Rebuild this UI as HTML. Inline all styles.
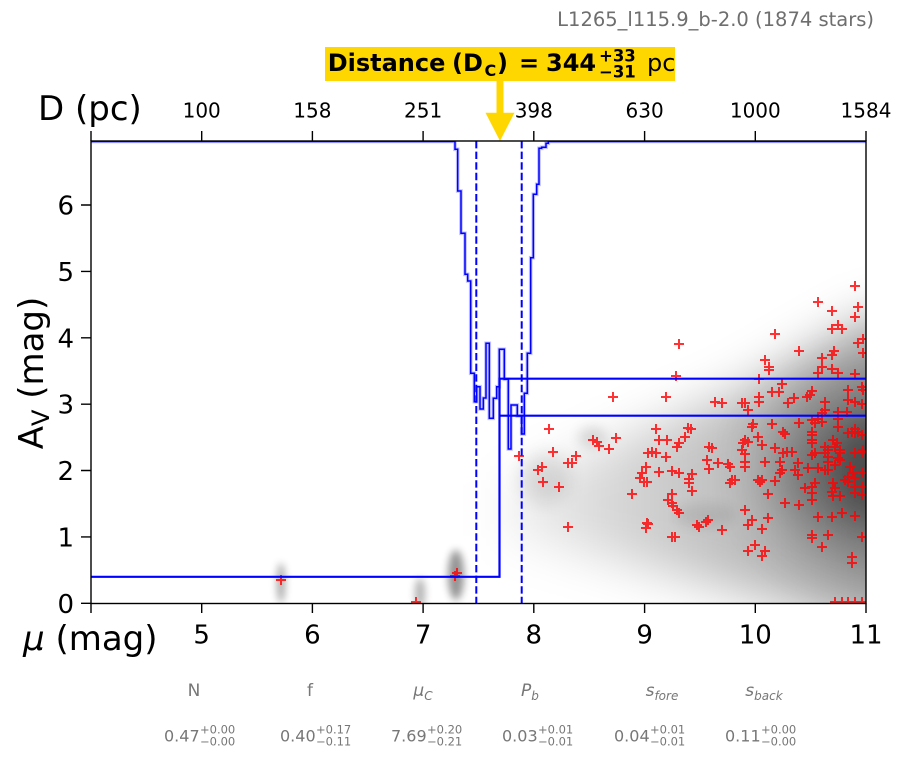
<!DOCTYPE html>
<html><head><meta charset="utf-8"><style>
html,body{margin:0;padding:0;background:#fff;}
svg{display:block;font-family:"DejaVu Sans","Liberation Sans",sans-serif;}
</style></head><body>
<svg width="902" height="759" viewBox="0 0 902 759" xmlns="http://www.w3.org/2000/svg">
<defs>
<clipPath id="pc"><rect x="91" y="141" width="775" height="462.5"/></clipPath>
<filter id="b25" x="-50%" y="-50%" width="200%" height="200%"><feGaussianBlur stdDeviation="24"/></filter>
<filter id="b30" x="-50%" y="-50%" width="200%" height="200%"><feGaussianBlur stdDeviation="32"/></filter>
<filter id="b15" x="-100%" y="-100%" width="300%" height="300%"><feGaussianBlur stdDeviation="15"/></filter>
<filter id="b10" x="-100%" y="-100%" width="300%" height="300%"><feGaussianBlur stdDeviation="9"/></filter>
<filter id="b6" x="-100%" y="-100%" width="300%" height="300%"><feGaussianBlur stdDeviation="6"/></filter>
<filter id="b4" x="-200%" y="-100%" width="500%" height="300%"><feGaussianBlur stdDeviation="4"/></filter>
<linearGradient id="gA" gradientUnits="userSpaceOnUse" x1="510" y1="0" x2="866" y2="0">
<stop offset="0" stop-color="#000" stop-opacity="0.06"/>
<stop offset="0.4" stop-color="#000" stop-opacity="0.19"/>
<stop offset="1" stop-color="#000" stop-opacity="0.36"/>
</linearGradient>
</defs>

<text x="874" y="26" text-anchor="end" font-size="19.5" fill="#6e6e6e">L1265_l115.9_b-2.0 (1874 stars)</text>

<rect x="325" y="47" width="350" height="34" fill="#FFD700"/>
<g fill="#000" font-weight="bold">
<text x="327.7" y="71" font-size="24">Distance</text>
<text x="452" y="71" font-size="24">(D</text>
<text x="484.5" y="76" font-size="16">C</text>
<text x="497" y="71" font-size="24">)</text>
<text x="519" y="71" font-size="24">=</text>
<text x="546" y="71" font-size="24">344</text>
<text x="599" y="61.5" font-size="16.5">+33</text>
<text x="599" y="77.3" font-size="16.5">−31</text>
</g>
<text x="647" y="71" font-size="24" fill="#000">pc</text>
<rect x="496.5" y="81" width="7" height="32" fill="#FFD700"/>
<polygon points="485.5,112.7 514.5,112.7 500,141" fill="#FFD700"/>

<g clip-path="url(#pc)">
<polygon points="505,485 620,440 740,390 866,320 990,295 990,650 866,625 740,592 620,562 505,535" fill="url(#gA)" filter="url(#b25)"/>
<ellipse cx="895" cy="470" rx="120" ry="85" fill="#000" opacity="0.42" filter="url(#b30)"/>
<ellipse cx="866" cy="470" rx="30" ry="45" fill="#000" opacity="0.2" filter="url(#b15)"/>
<ellipse cx="592" cy="437" rx="14" ry="10" fill="#000" opacity="0.12" filter="url(#b6)"/>
<ellipse cx="545" cy="478" rx="25" ry="25" fill="#000" opacity="0.1" filter="url(#b10)"/>
<ellipse cx="705" cy="515" rx="30" ry="12" fill="#000" opacity="0.08" filter="url(#b6)"/>
<ellipse cx="281" cy="583" rx="4" ry="20" fill="#000" opacity="0.35" filter="url(#b4)"/>
<ellipse cx="420" cy="593" rx="5" ry="15" fill="#000" opacity="0.3" filter="url(#b4)"/>
<ellipse cx="456" cy="575" rx="8" ry="25" fill="#000" opacity="0.42" filter="url(#b4)"/>
</g>

<g clip-path="url(#pc)">
<path fill="none" stroke="#ff0000" stroke-opacity="0.8" stroke-width="2" d="M276,580h10m-5,-5v10M411,602h10m-5,-5v10M450,576h10m-5,-5v10M452,573h10m-5,-5v10M850,286h10m-5,-5v10M813,302h10m-5,-5v10M827,311h10m-5,-5v10M853,307h10m-5,-5v10M850,317h10m-5,-5v10M827,329h10m-5,-5v10M833,325h10m-5,-5v10M837,329h10m-5,-5v10M770,334h10m-5,-5v10M853,343h10m-5,-5v10M858,339h10m-5,-5v10M674,344h10m-5,-5v10M794,351h10m-5,-5v10M829,351h10m-5,-5v10M827,355h10m-5,-5v10M858,353h10m-5,-5v10M817,358h10m-5,-5v10M760,360h10m-5,-5v10M764,367h10m-5,-5v10M764,370h10m-5,-5v10M817,367h10m-5,-5v10M827,369h10m-5,-5v10M833,373h10m-5,-5v10M813,373h10m-5,-5v10M850,374h10m-5,-5v10M671,376h10m-5,-5v10M754,379h10m-5,-5v10M777,384h10m-5,-5v10M843,390h10m-5,-5v10M857,387h10m-5,-5v10M858,390h10m-5,-5v10M767,392h10m-5,-5v10M774,392h10m-5,-5v10M807,391h10m-5,-5v10M802,397h10m-5,-5v10M805,395h10m-5,-5v10M608,397h10m-5,-5v10M661,397h10m-5,-5v10M754,397h10m-5,-5v10M754,402h10m-5,-5v10M789,398h10m-5,-5v10M783,403h10m-5,-5v10M710,402h10m-5,-5v10M717,403h10m-5,-5v10M737,403h10m-5,-5v10M740,403h10m-5,-5v10M820,402h10m-5,-5v10M820,410h10m-5,-5v10M843,400h10m-5,-5v10M850,402h10m-5,-5v10M857,404h10m-5,-5v10M743,410h10m-5,-5v10M842,412h10m-5,-5v10M817,413h10m-5,-5v10M833,412h10m-5,-5v10M833,419h10m-5,-5v10M807,420h10m-5,-5v10M813,419h10m-5,-5v10M817,422h10m-5,-5v10M810,423h10m-5,-5v10M794,423h10m-5,-5v10M833,427h10m-5,-5v10M748,424h10m-5,-5v10M747,427h10m-5,-5v10M767,424h10m-5,-5v10M544,429h10m-5,-5v10M651,429h10m-5,-5v10M683,428h10m-5,-5v10M686,429h10m-5,-5v10M778,432h10m-5,-5v10M780,434h10m-5,-5v10M807,432h10m-5,-5v10M807,435h10m-5,-5v10M847,432h10m-5,-5v10M850,433h10m-5,-5v10M853,432h10m-5,-5v10M857,435h10m-5,-5v10M850,429h10m-5,-5v10M843,433h10m-5,-5v10M753,437h10m-5,-5v10M680,437h10m-5,-5v10M807,440h10m-5,-5v10M807,443h10m-5,-5v10M588,440h10m-5,-5v10M592,442h10m-5,-5v10M611,438h10m-5,-5v10M654,440h10m-5,-5v10M662,440h10m-5,-5v10M740,440h10m-5,-5v10M743,442h10m-5,-5v10M738,443h10m-5,-5v10M828,440h10m-5,-5v10M832,443h10m-5,-5v10M594,446h10m-5,-5v10M674,443h10m-5,-5v10M672,447h10m-5,-5v10M757,445h10m-5,-5v10M820,447h10m-5,-5v10M823,450h10m-5,-5v10M830,447h10m-5,-5v10M835,450h10m-5,-5v10M704,447h10m-5,-5v10M707,448h10m-5,-5v10M604,449h10m-5,-5v10M548,452h10m-5,-5v10M571,456h10m-5,-5v10M643,453h10m-5,-5v10M647,452h10m-5,-5v10M651,453h10m-5,-5v10M661,457h10m-5,-5v10M737,450h10m-5,-5v10M740,454h10m-5,-5v10M770,448h10m-5,-5v10M778,453h10m-5,-5v10M782,452h10m-5,-5v10M787,452h10m-5,-5v10M807,455h10m-5,-5v10M810,453h10m-5,-5v10M820,453h10m-5,-5v10M823,457h10m-5,-5v10M835,453h10m-5,-5v10M833,458h10m-5,-5v10M850,453h10m-5,-5v10M857,453h10m-5,-5v10M858,450h10m-5,-5v10M567,463h10m-5,-5v10M563,463h10m-5,-5v10M537,467h10m-5,-5v10M533,470h10m-5,-5v10M641,467h10m-5,-5v10M702,460h10m-5,-5v10M704,469h10m-5,-5v10M713,463h10m-5,-5v10M723,464h10m-5,-5v10M725,467h10m-5,-5v10M740,462h10m-5,-5v10M740,467h10m-5,-5v10M760,462h10m-5,-5v10M775,462h10m-5,-5v10M777,470h10m-5,-5v10M775,473h10m-5,-5v10M793,463h10m-5,-5v10M790,470h10m-5,-5v10M793,475h10m-5,-5v10M803,468h10m-5,-5v10M813,468h10m-5,-5v10M823,462h10m-5,-5v10M823,470h10m-5,-5v10M820,470h10m-5,-5v10M830,465h10m-5,-5v10M835,460h10m-5,-5v10M845,467h10m-5,-5v10M848,473h10m-5,-5v10M843,477h10m-5,-5v10M857,472h10m-5,-5v10M850,478h10m-5,-5v10M654,472h10m-5,-5v10M667,471h10m-5,-5v10M674,473h10m-5,-5v10M637,473h10m-5,-5v10M635,478h10m-5,-5v10M639,482h10m-5,-5v10M642,482h10m-5,-5v10M687,474h10m-5,-5v10M684,479h10m-5,-5v10M684,483h10m-5,-5v10M538,482h10m-5,-5v10M554,487h10m-5,-5v10M727,480h10m-5,-5v10M725,483h10m-5,-5v10M730,480h10m-5,-5v10M753,480h10m-5,-5v10M757,480h10m-5,-5v10M755,482h10m-5,-5v10M770,481h10m-5,-5v10M810,483h10m-5,-5v10M807,487h10m-5,-5v10M828,483h10m-5,-5v10M830,488h10m-5,-5v10M840,480h10m-5,-5v10M843,482h10m-5,-5v10M850,487h10m-5,-5v10M857,487h10m-5,-5v10M800,488h10m-5,-5v10M687,491h10m-5,-5v10M667,494h10m-5,-5v10M627,494h10m-5,-5v10M763,494h10m-5,-5v10M827,492h10m-5,-5v10M828,496h10m-5,-5v10M835,496h10m-5,-5v10M807,493h10m-5,-5v10M807,500h10m-5,-5v10M850,493h10m-5,-5v10M857,495h10m-5,-5v10M663,500h10m-5,-5v10M667,503h10m-5,-5v10M668,506h10m-5,-5v10M780,503h10m-5,-5v10M794,505h10m-5,-5v10M740,510h10m-5,-5v10M672,510h10m-5,-5v10M674,513h10m-5,-5v10M837,513h10m-5,-5v10M850,516h10m-5,-5v10M813,517h10m-5,-5v10M827,517h10m-5,-5v10M763,518h10m-5,-5v10M703,520h10m-5,-5v10M701,522h10m-5,-5v10M642,523h10m-5,-5v10M643,524h10m-5,-5v10M641,528h10m-5,-5v10M747,520h10m-5,-5v10M743,525h10m-5,-5v10M692,525h10m-5,-5v10M694,527h10m-5,-5v10M563,527h10m-5,-5v10M717,530h10m-5,-5v10M757,529h10m-5,-5v10M807,535h10m-5,-5v10M807,538h10m-5,-5v10M823,535h10m-5,-5v10M857,537h10m-5,-5v10M667,537h10m-5,-5v10M670,537h10m-5,-5v10M750,545h10m-5,-5v10M743,551h10m-5,-5v10M760,551h10m-5,-5v10M757,556h10m-5,-5v10M817,547h10m-5,-5v10M847,557h10m-5,-5v10M847,563h10m-5,-5v10M830,602h10m-5,-5v10M837,602h10m-5,-5v10M843,602h10m-5,-5v10M850,602h10m-5,-5v10M857,602h10m-5,-5v10M514,456h10m-5,-5v10"/>
</g>

<g clip-path="url(#pc)">
<path fill="none" stroke="#8c8cff" stroke-opacity="0.55" stroke-width="3.6" d="M91,141.5H455V149.3H457.7V191H461V233.3H465V274.3H467.7V281H470.7V373.3H474.3V401.7H476.7V386.7H480V409H483.3V398H486V343.3H489.3V418.3H493.3V398.3H496.7V386.7H499.3V349.3H504.3V379.3H508.3V449H511V405H517.3V416H521.7V434H524.3V393.3H527.3V353.3H530.7V257.7H533.3V194.3H536.7V184.3H539V148.3H541.7V147.3H546V143.3H548.3V141.5H866"/>
<path fill="none" stroke="#0000ff" stroke-width="1.5" d="M91,141.5H455V149.3H457.7V191H461V233.3H465V274.3H467.7V281H470.7V373.3H474.3V401.7H476.7V386.7H480V409H483.3V398H486V343.3H489.3V418.3H493.3V398.3H496.7V386.7H499.3V349.3H504.3V379.3H508.3V449H511V405H517.3V416H521.7V434H524.3V393.3H527.3V353.3H530.7V257.7H533.3V194.3H536.7V184.3H539V148.3H541.7V147.3H546V143.3H548.3V141.5H866"/>
<path fill="none" stroke="#0000ff" stroke-width="2.2" d="M91,576.8H499.5V378.7H866M499.5,415.7H866"/>
<path fill="none" stroke="#0000ff" stroke-width="2" stroke-dasharray="7.4,3.2" d="M476.3,141V604M521.7,141V604"/>
</g>

<g stroke="#000" stroke-width="1.4" fill="none">
<rect x="91" y="141" width="775" height="462.5"/>
<path d="M81,603.3H91M81,536.9H91M81,470.5H91M81,404.2H91M81,337.8H91M81,271.4H91M81,205H91"/>
<path d="M91,603.5V613M201.7,603.5V613M312.4,603.5V613M423.1,603.5V613M533.8,603.5V613M644.6,603.5V613M755.3,603.5V613M866,603.5V613"/>
<path d="M91,131V141M201.7,131V141M312.4,131V141M423.1,131V141M533.8,131V141M644.6,131V141M755.3,131V141M866,131V141"/>
</g>

<g font-size="26" fill="#000" text-anchor="end">
<text x="74" y="612.8">0</text>
<text x="74" y="546.4">1</text>
<text x="74" y="480">2</text>
<text x="74" y="413.7">3</text>
<text x="74" y="347.3">4</text>
<text x="74" y="280.9">5</text>
<text x="74" y="214.5">6</text>
</g>
<g font-size="26" fill="#000" text-anchor="middle">
<text x="201.7" y="643.3">5</text>
<text x="312.4" y="643.3">6</text>
<text x="423.1" y="643.3">7</text>
<text x="533.8" y="643.3">8</text>
<text x="644.6" y="643.3">9</text>
<text x="755.3" y="643.3">10</text>
<text x="866" y="643.3">11</text>
</g>
<g font-size="20" fill="#000" text-anchor="middle">
<text x="201.7" y="117.7">100</text>
<text x="312.4" y="117.7">158</text>
<text x="423.1" y="117.7">251</text>
<text x="533.8" y="117.7">398</text>
<text x="644.6" y="117.7">630</text>
<text x="755.3" y="117.7">1000</text>
<text x="866" y="117.7">1584</text>
</g>

<text x="38" y="120" font-size="34" fill="#000">D (pc)</text>
<text x="23" y="650" font-size="34" fill="#000"><tspan font-style="italic">μ</tspan> (mag)</text>
<text transform="translate(43,373) rotate(-90)" text-anchor="middle" font-size="34" fill="#000">A<tspan font-size="24" dy="6">V</tspan><tspan dy="-6"> (mag)</tspan></text>

<g font-size="17" fill="#777">
<text x="194" y="696" text-anchor="middle">N</text>
<text x="310" y="696" text-anchor="middle">f</text>
<text x="413.4" y="696" font-style="italic">μ<tspan font-size="12" dy="4">C</tspan></text>
<text x="521" y="696" font-style="italic">P<tspan font-size="12" dy="4">b</tspan></text>
<text x="645.6" y="696" font-style="italic">s<tspan font-size="12" dy="4">fore</tspan></text>
<text x="745.3" y="696" font-style="italic">s<tspan font-size="12" dy="4">back</tspan></text>
</g>
<g fill="#777">
<text x="164" y="741.5" font-size="16">0.47</text><text x="200" y="733.3" font-size="11.5">+0.00</text><text x="200" y="745.7" font-size="11.5">−0.00</text>
<text x="280" y="741.5" font-size="16">0.40</text><text x="316" y="733.3" font-size="11.5">+0.17</text><text x="316" y="745.7" font-size="11.5">−0.11</text>
<text x="391" y="741.5" font-size="16">7.69</text><text x="427" y="733.3" font-size="11.5">+0.20</text><text x="427" y="745.7" font-size="11.5">−0.21</text>
<text x="502" y="741.5" font-size="16">0.03</text><text x="538" y="733.3" font-size="11.5">+0.01</text><text x="538" y="745.7" font-size="11.5">−0.01</text>
<text x="614" y="741.5" font-size="16">0.04</text><text x="650" y="733.3" font-size="11.5">+0.01</text><text x="650" y="745.7" font-size="11.5">−0.01</text>
<text x="725" y="741.5" font-size="16">0.11</text><text x="761" y="733.3" font-size="11.5">+0.00</text><text x="761" y="745.7" font-size="11.5">−0.00</text>
</g>
</svg>
</body></html>
